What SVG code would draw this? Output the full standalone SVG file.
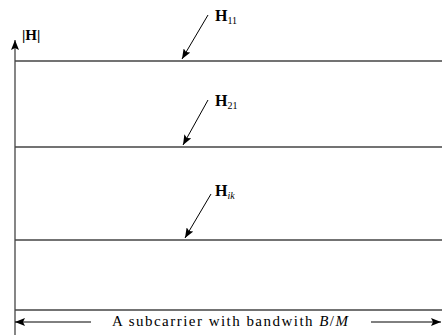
<svg xmlns="http://www.w3.org/2000/svg" width="442" height="335" viewBox="0 0 442 335">
<defs>
<style>
.lvl{stroke:#444;stroke-width:1.3;fill:none}
.ax{stroke:#222;stroke-width:1.1;fill:none}
.ptr{stroke:#000;stroke-width:1;fill:none}
.lbl{font-family:"Liberation Serif","DejaVu Serif",serif;font-size:15px;fill:#000}
.hl{font-size:16px}
.b{font-weight:bold}
.sub{font-size:10px}
</style>
<marker id="ah" viewBox="0 0 10 8" refX="10" refY="4" markerWidth="10" markerHeight="8" markerUnits="userSpaceOnUse" orient="auto">
<path d="M0,0 L10,4 L0,8 L2,4 Z" fill="#000"/>
</marker>
</defs>
<rect width="442" height="335" fill="#fff"/>
<g id="axis">
<line class="ax" x1="15" y1="335" x2="15" y2="40" marker-end="url(#ah)"/>
<text class="lbl b" x="22" y="40">|H|</text>
</g>
<g id="H11">
<line class="lvl" x1="15" y1="61" x2="442" y2="61"/>
<text class="lbl hl b" x="215" y="21">H<tspan class="sub" font-weight="normal" dy="3">11</tspan></text>
</g>
<g id="H21">
<line class="lvl" x1="15" y1="147" x2="442" y2="147"/>
<text class="lbl hl b" x="215" y="106">H<tspan class="sub" font-weight="normal" dy="3">21</tspan></text>
</g>
<g id="Hik">
<line class="lvl" x1="15" y1="240" x2="442" y2="240"/>
<text class="lbl hl b" x="215" y="196">H<tspan class="sub" font-weight="normal" font-style="italic" dy="3">ik</tspan></text>
</g>
<g id="base">
<line class="lvl" x1="15" y1="310" x2="442" y2="310"/>
<text class="lbl" x="112" y="326" textLength="236" lengthAdjust="spacing">A subcarrier with bandwith <tspan font-style="italic">B</tspan>/<tspan font-style="italic">M</tspan></text>
</g>
<g id="connectors">
<line class="ptr" x1="208" y1="15" x2="182" y2="59" marker-end="url(#ah)"/>
<line class="ptr" x1="208" y1="100" x2="183" y2="145" marker-end="url(#ah)"/>
<line class="ptr" x1="211" y1="194" x2="185" y2="238" marker-end="url(#ah)"/>
<line class="ptr" x1="91" y1="322" x2="15" y2="322" marker-end="url(#ah)"/>
<line class="ptr" x1="371" y1="322" x2="441" y2="322" marker-end="url(#ah)"/>
</g>
</svg>
